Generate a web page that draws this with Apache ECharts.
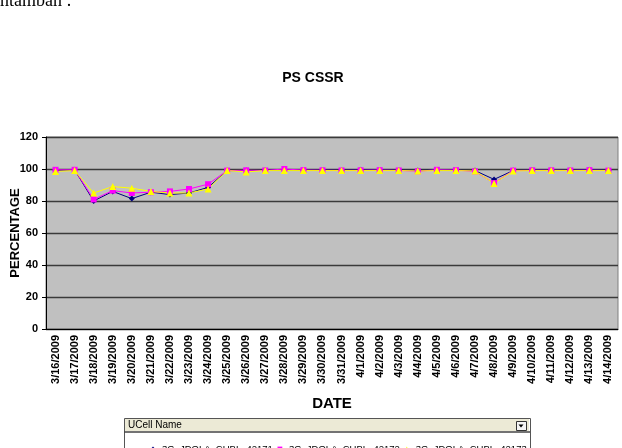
<!DOCTYPE html>
<html>
<head>
<meta charset="utf-8">
<script src="https://cdn.jsdelivr.net/npm/echarts@6/dist/echarts.min.js"></script>
<style>
  html, body { margin: 0; padding: 0; background: #fff; }
  #chart { width: 622px; height: 448px; }
</style>
</head>
<body>
<div id="chart"></div>
<script>
// PS CSSR per cell, 3/16 - 4/14
var dates = ["3/16/2009", "3/17/2009", "3/18/2009", "3/19/2009", "3/20/2009", "3/21/2009",
  "3/22/2009", "3/23/2009", "3/24/2009", "3/25/2009", "3/26/2009", "3/27/2009", "3/28/2009",
  "3/29/2009", "3/30/2009", "3/31/2009", "4/1/2009", "4/2/2009", "4/3/2009", "4/4/2009",
  "4/5/2009", "4/6/2009", "4/7/2009", "4/8/2009", "4/9/2009", "4/10/2009", "4/11/2009",
  "4/12/2009", "4/13/2009", "4/14/2009"];
var cell1 = [99, 99.5, 80, 86, 81.5, 85.5, 84, 85, 88.5, 99, 99, 99.2, 99.4, 99.2, 99.3, 99.2,
  99.5, 99.3, 99.2, 99.1, 99.3, 99.2, 99, 93.5, 99, 99.3, 99.2, 99.2, 99.6, 99];
var cell2 = [99.5, 99.5, 81, 86.5, 85, 85.5, 86, 87.5, 90.5, 99, 99.2, 99.1, 100, 99.3, 99.2, 99.1,
  99.2, 99.3, 99.1, 98.6, 99.5, 99.3, 98.5, 91.2, 99, 99.2, 99.2, 99.1, 99.3, 99];
var cell3 = [98.5, 99, 85, 89, 88, 86, 85, 85, 87.5, 99, 98.2, 99, 99, 99, 99, 99,
  99, 99, 99, 98.8, 99, 99, 98.8, 91, 98.8, 99, 99, 99, 99, 99];
var cellNames = ["3G_JDOLA_CUBL_42171", "3G_JDOLA_CUBL_42172", "3G_JDOLA_CUBL_42173"];

var chart = echarts.init(document.getElementById("chart"));
var bold = { fontFamily: "Liberation Sans, Arial", fontWeight: "bold", color: "#000" };

var option = {
  animation: false,
  backgroundColor: "#fff",
  title: {
    text: "PS CSSR",
    left: 308,
    top: 66,
    textAlign: "center",
    textStyle: Object.assign({ fontSize: 14 }, bold)
  },
  legend: {
    data: cellNames,
    left: 143,
    top: 439,
    itemGap: 2,
    itemWidth: 8,
    itemHeight: 6,
    z: 10,
    textStyle: { fontFamily: "Liberation Sans, Arial", fontSize: 9.5, color: "#000" }
  },
  grid: {
    left: 46,
    right: 4,
    top: 137,
    bottom: 119,
    outerBoundsMode: "none",
    containLabel: false,
    show: true,
    backgroundColor: "#c0c0c0",
    borderColor: "#808080",
    borderWidth: 1
  },
  xAxis: {
    type: "category",
    data: dates,
    boundaryGap: true,
    name: "DATE",
    nameLocation: "middle",
    nameGap: 67,
    nameTextStyle: Object.assign({ fontSize: 15 }, bold),
    axisLine: { lineStyle: { color: "#000", width: 1 } },
    axisTick: { interval: 0, length: 4, lineStyle: { color: "#000" } },
    axisLabel: Object.assign({ interval: 0, rotate: 90, fontSize: 11, margin: 6 }, bold)
  },
  yAxis: {
    type: "value",
    min: 0,
    max: 120,
    interval: 20,
    name: "PERCENTAGE",
    nameLocation: "middle",
    nameRotate: 90,
    nameGap: 24,
    nameMoveOverlap: false,
    nameTextStyle: Object.assign({ fontSize: 13 }, bold),
    axisLine: { show: true, lineStyle: { color: "#000" } },
    axisTick: { show: true, length: 4, lineStyle: { color: "#000" } },
    axisLabel: Object.assign({ fontSize: 11, margin: 8 }, bold),
    splitLine: { lineStyle: { color: "#3a3a3a", width: 1.3 } }
  },
  series: [
    {
      name: cellNames[0], type: "line", data: cell1,
      symbol: "diamond", symbolSize: 6,
      lineStyle: { color: "#000080", width: 1 },
      itemStyle: { color: "#000080" }
    },
    {
      name: cellNames[1], type: "line", data: cell2,
      symbol: "rect", symbolSize: 6,
      lineStyle: { color: "#ff00ff", width: 1 },
      itemStyle: { color: "#ff00ff" }
    },
    {
      name: cellNames[2], type: "line", data: cell3,
      symbol: "triangle", symbolSize: 7,
      lineStyle: { color: "#ffff00", width: 1 },
      itemStyle: { color: "#ffff00" }
    }
  ],
  graphic: [
    {
      type: "text", left: 0, top: -8,
      style: { text: "ntamban :", fontFamily: "Liberation Serif, Times New Roman", fontSize: 18, fill: "#000" }
    },
    {
      type: "rect", left: 124, top: 418, z: -10,
      shape: { width: 406, height: 40 },
      style: { fill: "#fff", stroke: "#555", lineWidth: 1 }
    },
    {
      type: "rect", left: 125, top: 419,
      shape: { width: 404, height: 12 },
      style: { fill: "#ecead6", stroke: null }
    },
    {
      type: "line",
      shape: { x1: 124, y1: 432, x2: 530, y2: 432 },
      style: { stroke: "#444", lineWidth: 1.5 }
    },
    {
      type: "text", left: 128, top: 420,
      style: { text: "UCell Name", fontFamily: "Liberation Sans, Arial", fontSize: 10, fill: "#000" }
    },
    {
      type: "rect", left: 516, top: 421,
      shape: { width: 10, height: 9 },
      style: { fill: "#f4f4f4", stroke: "#333", lineWidth: 1 }
    },
    {
      type: "polygon",
      shape: { points: [[518.5, 424.5], [523.5, 424.5], [521, 427.5]] },
      style: { fill: "#000" }
    }
  ]
};

chart.setOption(option);
</script>
</body>
</html>
